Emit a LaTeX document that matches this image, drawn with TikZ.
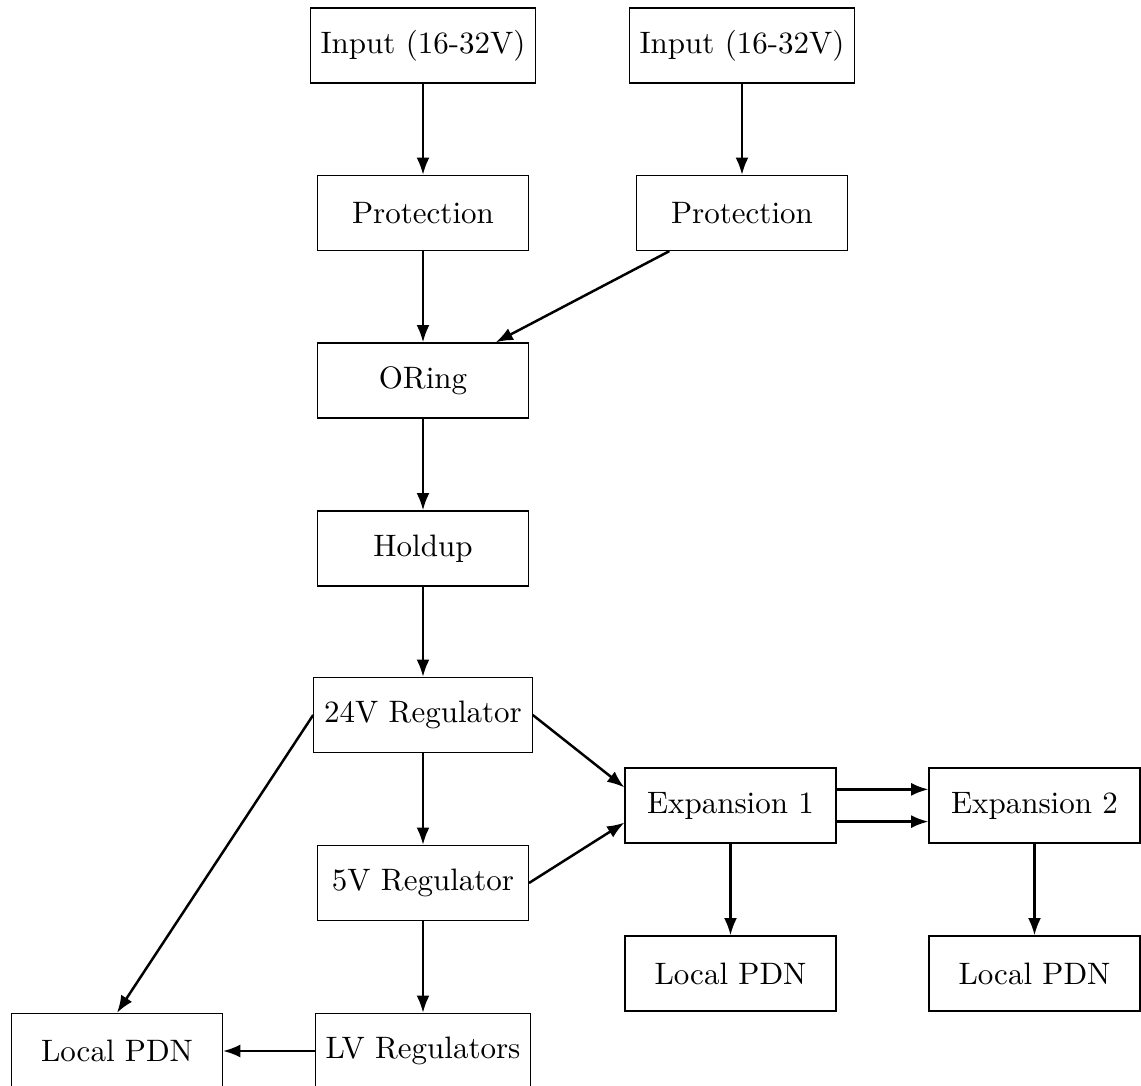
\documentclass[tikz,border=0pt]{standalone}
\usetikzlibrary{arrows.meta}
\begin{document}
\begin{tikzpicture}[x=0.32258pt, y=-0.32258pt,
  blk/.style={draw, line width=0.4pt, minimum width=68pt, minimum height=24.2pt, inner sep=3.33pt},
  conn/.style={thick, -{Latex[length=5.6pt,width=4.2pt]}}]
\useasboundingbox (0,0) rectangle (1141,1086);
\clip (0,0) rectangle (1141,1086);

% main power chain
\node[blk] (in1)    at (423,45.5)   {Input (16-32V)};
\node[blk] (in2)    at (742,45.5)   {Input (16-32V)};
\node[blk] (prot1)  at (423,213)    {Protection};
\node[blk] (prot2)  at (742,213)    {Protection};
\node[blk] (oring)  at (423,380.5)  {ORing};
\node[blk] (holdup) at (423,548.5)  {Holdup};
\node[blk] (reg24)  at (423,715)    {24V Regulator};
\node[blk] (reg5)   at (423,883)    {5V Regulator};
\node[blk] (lv)     at (423,1051)   {LV Regulators};
\node[blk] (pdnL)   at (117,1051)   {Local PDN};

% expansion boards
\node[blk] (exp1)   at (730.5,805.5)  {Expansion 1};
\node[blk] (exp2)   at (1034.5,805.5) {Expansion 2};
\node[blk] (pdn1)   at (730.5,973.5)  {Local PDN};
\node[blk] (pdn2)   at (1034.5,973.5) {Local PDN};

% connections
\draw[conn] (in1) -- (prot1);
\draw[conn] (in2) -- (prot2);
\draw[conn] (prot1) -- (oring);
\draw[conn] (prot2) -- (oring);
\draw[conn] (oring) -- (holdup);
\draw[conn] (holdup) -- (reg24);
\draw[conn] (reg24) -- (reg5);
\draw[conn] (reg5) -- (lv);
\draw[conn] (lv.west) -- (pdnL.east);
\draw[conn] (reg24.west) -- (pdnL.north);
\draw[conn] (reg24.east) -- ([yshift=5.8pt]exp1.west);
\draw[conn] (reg5.east) -- ([yshift=-5.5pt]exp1.west);
\draw[conn] ([yshift=5.2pt]exp1.east) -- ([yshift=5.2pt]exp2.west);
\draw[conn] ([yshift=-5.2pt]exp1.east) -- ([yshift=-5.2pt]exp2.west);
\draw[conn] (exp1) -- (pdn1);
\draw[conn] (exp2) -- (pdn2);
\end{tikzpicture}
\end{document}
